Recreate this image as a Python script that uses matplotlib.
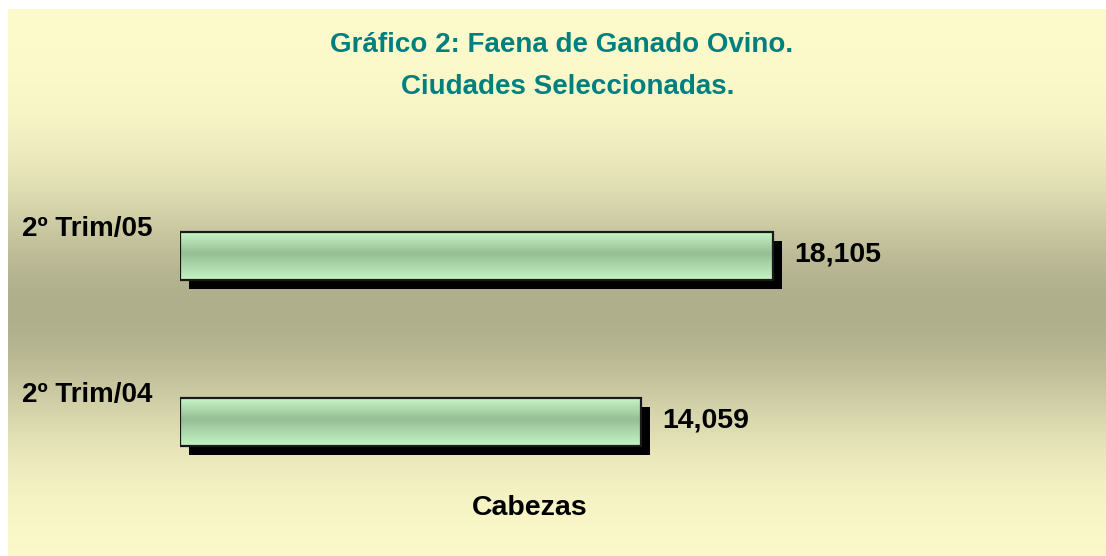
import numpy
import matplotlib
matplotlib.use('Agg')
import matplotlib.pyplot
import matplotlib.transforms
from matplotlib.patches import Rectangle

categories = ['2º Trim/04', '2º Trim/05']
values = [14059, 18105]
value_labels = ['14,059', '18,105']
title_lines = ['Gráfico 2: Faena de Ganado Ovino.', 'Ciudades Seleccionadas.']
xlabel = 'Cabezas'

matplotlib.pyplot.rcParams['font.family'] = ['Liberation Sans', 'DejaVu Sans']

W, H = 1106, 556
fig = matplotlib.pyplot.figure(figsize=(W/100, H/100), dpi=100, facecolor='white')

# background gradient (light yellow -> tan -> light yellow), smooth bump
bg = fig.add_axes([8/W, 0, 1-8/W, 1-9/H])
bg.set_axis_off()
light = numpy.array([253, 251, 203])/255.
dark = numpy.array([176, 175, 140])/255.
t = numpy.linspace(0, 1, 600)
d = numpy.exp(-((t-0.55)/0.23)**2)
grad = light[None, :] + d[:, None]*(dark-light)[None, :]
bg.imshow(grad[:, None, :], aspect='auto', extent=[0, 1, 0, 1], interpolation='bilinear')
bg.set_xlim(0, 1)
bg.set_ylim(0, 1)

ax = fig.add_axes([180/W, 1-505/H, 819/W, 332/H])
ax.set_axis_off()
ax.patch.set_alpha(0)

bh = 0.29
ypos = numpy.arange(len(categories))
shadow = matplotlib.transforms.ScaledTranslation(0.09, -0.09, fig.dpi_scale_trans)
ax.barh(ypos, values, height=bh, color='black', transform=ax.transData + shadow, zorder=1)

# bar fill gradient
gs = [0.0, 0.45, 1.0]
gc = numpy.array([[200, 248, 200], [150, 190, 150], [196, 244, 196]])/255.
tt = numpy.linspace(0, 1, 100)
bgrad = numpy.stack([numpy.interp(tt, gs, gc[:, k]) for k in range(3)], axis=1)
for y, v in zip(ypos, values):
	rect = Rectangle((0, y-bh/2), v, bh, facecolor='none', edgecolor='#1a1a1a', lw=1.6, zorder=3)
	ax.add_patch(rect)
	im = ax.imshow(bgrad[:, None, :], aspect='auto', extent=[0, v, y-bh/2, y+bh/2],
		interpolation='bilinear', zorder=2)
	im.set_clip_path(rect)
ax.set_xlim(0, 25000)
ax.set_ylim(-0.5, 1.5)

lab_tr = matplotlib.transforms.blended_transform_factory(ax.transAxes, ax.transData)
for y, c in zip(ypos, categories):
	ax.text(-28/819, y+0.16, c, transform=lab_tr, ha='right', va='center',
		fontsize=20, fontweight='bold', color='black')

for y, v, s in zip(ypos, values, value_labels):
	ax.annotate(s, (v, y), xytext=(15.5, 1), textcoords='offset points', ha='left', va='center',
		fontsize=20.5, fontweight='bold', color='black')

fig.text(562/W, 1-45/H, title_lines[0], ha='center', va='center', fontsize=20,
	fontweight='bold', color='#007F7F')
fig.text(568/W, 1-87/H, title_lines[1], ha='center', va='center', fontsize=20,
	fontweight='bold', color='#007F7F')
fig.text(530/W, 1-508/H, xlabel, ha='center', va='center', fontsize=20.5,
	fontweight='bold', color='black')

matplotlib.pyplot.savefig('out.png', dpi=100, facecolor='white')
